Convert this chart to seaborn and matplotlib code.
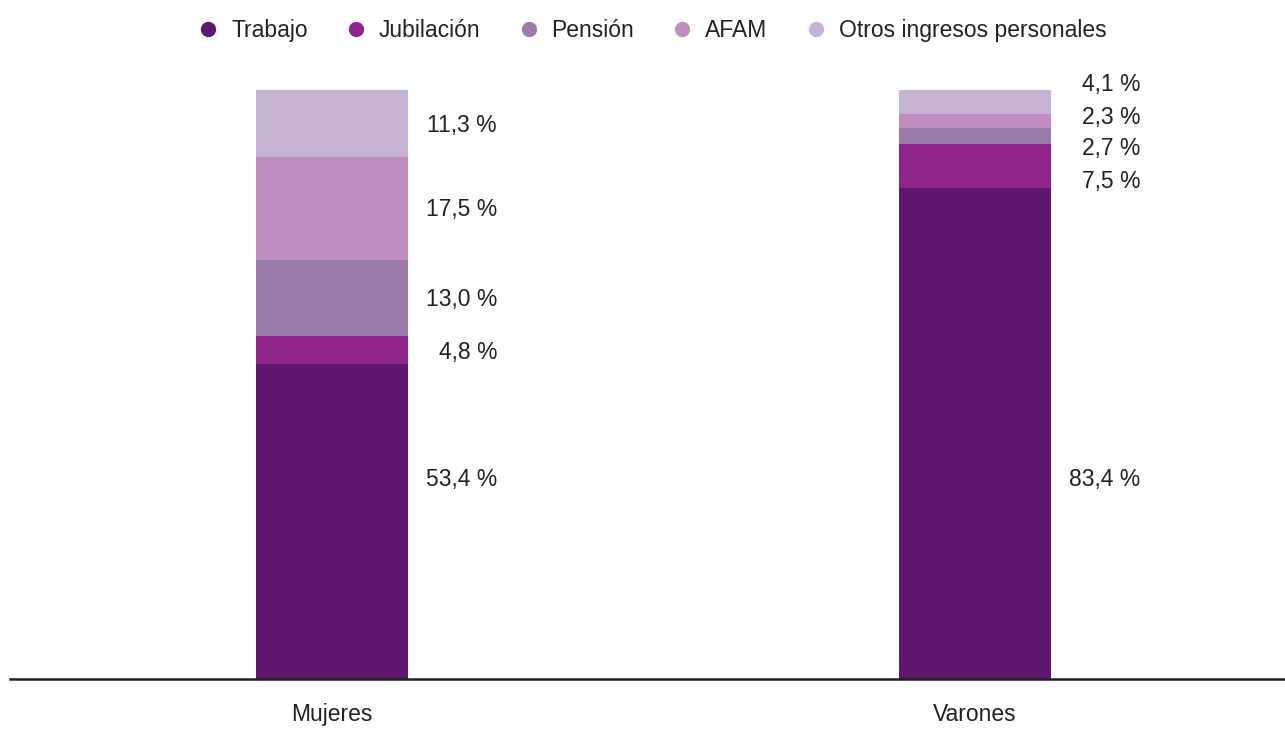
import numpy as np
import matplotlib
matplotlib.use('Agg')
import matplotlib.pyplot as plt
import seaborn as sns
import pandas as pd

groups = ['Mujeres', 'Varones']
sources = ['Trabajo', 'Jubilación', 'Pensión', 'AFAM', 'Otros ingresos personales']
mujeres = [53.4, 4.8, 13.0, 17.5, 11.3]
varones = [83.4, 7.5, 2.7, 2.3, 4.1]
colors = ['#5E186E', '#8E258C', '#9A7BAA', '#BF8EBF', '#C4B3D3']

# label heights (in % units), spread out where segments are thin
label_y_muj = [33.8, 55.4, 64.5, 79.7, 93.9]
label_y_var = [33.8, 84.5, 90.0, 95.4, 101.0]

sns.set_style('white')
plt.rcParams['font.family'] = ['Liberation Sans', 'DejaVu Sans']

fig = plt.figure(figsize=(12.85, 7.38), dpi=100)
ax = fig.add_axes([10 / 1285, 59 / 738, 1 - 10 / 1285, 589 / 738])

vals = np.array([mujeres, varones])
cum = np.cumsum(vals, axis=1)

# stacked bars: draw cumulative totals from the top down
for i in range(len(sources) - 1, -1, -1):
    df = pd.DataFrame({'grupo': groups, 'valor': cum[:, i]})
    sns.barplot(data=df, x='grupo', y='valor', color=colors[i], width=0.236,
                saturation=1, ax=ax, label=sources[i], linewidth=0, errorbar=None)

for j, ys in enumerate([label_y_muj, label_y_var]):
    for k, y in enumerate(ys):
        txt = '{:.1f} %'.format(vals[j, k]).replace('.', ',')
        ax.text(j + 0.2566, y, txt, ha='right', va='center', fontsize=16.5, color='#222222')

ax.set_xlim(-0.5008, 1.482)
ax.set_ylim(0, 100)
ax.set_xlabel('')
ax.set_ylabel('')
ax.set_yticks([])
for s in ['top', 'right', 'left']:
    ax.spines[s].set_visible(False)
ax.spines['bottom'].set_color('#222222')
ax.spines['bottom'].set_linewidth(1.8)
ax.tick_params(axis='x', length=0, pad=17, labelsize=16.5, labelcolor='#222222')

if ax.get_legend() is not None:
    ax.get_legend().remove()
handles = [plt.Line2D([], [], marker='o', linestyle='', markersize=10,
                      markerfacecolor=c, markeredgecolor=c) for c in colors]
fig.legend(handles, sources, loc='center', bbox_to_anchor=(0.507, 0.959), ncol=5,
           frameon=False, fontsize=16.5, handlelength=1.0, handletextpad=0.5,
           columnspacing=1.6, labelcolor='#222222')

fig.savefig('out.png', dpi=100)
